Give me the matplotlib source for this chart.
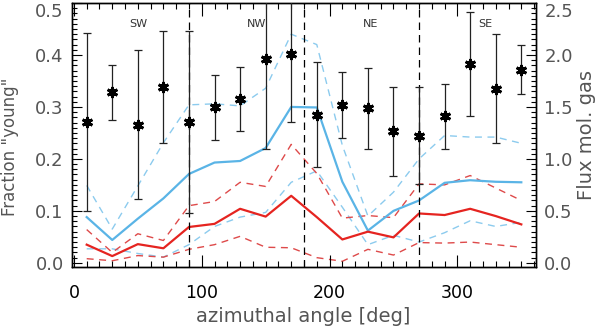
import matplotlib
matplotlib.use("Agg")
import matplotlib.pyplot as plt
import numpy as np

# azimuthal bins (deg)
angles = [10, 30, 50, 70, 90, 110, 130, 150, 170, 190, 210, 230, 250, 270, 290, 310, 330, 350]

# fraction "young" (left axis) with symmetric errors
frac_young = [0.271, 0.328, 0.266, 0.338, 0.271, 0.299, 0.315, 0.392, 0.402,
              0.285, 0.304, 0.297, 0.253, 0.245, 0.282, 0.383, 0.335, 0.372]
frac_err = [0.171, 0.053, 0.144, 0.108, 0.176, 0.062, 0.062, 0.172, 0.131,
            0.101, 0.063, 0.078, 0.085, 0.093, 0.062, 0.100, 0.105, 0.048]

# flux mol. gas (right axis) - blue series
blue_mid = [0.44, 0.22, 0.425, 0.62, 0.855, 0.965, 0.98, 1.105, 1.50,
            1.495, 0.78, 0.31, 0.50, 0.60, 0.77, 0.795, 0.78, 0.775]
blue_hi = [0.745, 0.325, 0.74, 1.155, 1.52, 1.53, 1.51, 1.68, 2.20,
           2.10, 1.13, 0.45, 0.68, 1.00, 1.225, 1.21, 1.21, 1.15]
blue_lo = [0.135, 0.135, 0.09, 0.055, 0.175, 0.35, 0.44, 0.485, 0.775,
           0.885, 0.535, 0.175, 0.265, 0.20, 0.29, 0.405, 0.35, 0.39]

# flux mol. gas (right axis) - red series
red_mid = [0.175, 0.065, 0.18, 0.14, 0.345, 0.375, 0.52, 0.445, 0.645,
           0.44, 0.225, 0.30, 0.245, 0.475, 0.46, 0.52, 0.45, 0.37]
red_hi = [0.32, 0.10, 0.28, 0.215, 0.55, 0.59, 0.775, 0.735, 1.14,
          0.86, 0.43, 0.455, 0.435, 0.76, 0.75, 0.84, 0.72, 0.60]
red_lo = [0.04, 0.02, 0.07, 0.055, 0.13, 0.175, 0.255, 0.15, 0.145,
          0.05, 0.015, 0.13, 0.075, 0.195, 0.19, 0.20, 0.175, 0.15]

sectors = ["SW", "NW", "NE", "SE"]
sector_x = [50, 143, 232, 322]
sector_bounds = [90, 180, 270]

x_ticks = [0, 100, 200, 300]

BLUE = "#5ab4e6"
BLUE_D = "#8ccbee"
RED = "#e52420"
RED_D = "#de4a4a"
GRAY = "#555555"

fig = plt.figure(figsize=(6.0, 3.28), dpi=100)
ax = fig.add_axes([72/600, (328-267)/328, 464/600, 264/328])
ax2 = ax.twinx()

ax.set_xlim(-1.5, 361.5)
ax.set_ylim(-0.008, 0.5)
ax2.set_ylim(-0.04, 2.5)

dash = (0, (5, 4))
ax2.plot(angles, blue_hi, color=BLUE_D, lw=1.0, linestyle=dash)
ax2.plot(angles, blue_lo, color=BLUE_D, lw=1.0, linestyle=dash)
ax2.plot(angles, red_hi, color=RED_D, lw=1.0, linestyle=dash)
ax2.plot(angles, red_lo, color=RED_D, lw=1.0, linestyle=dash)
ax2.plot(angles, blue_mid, color=BLUE, lw=1.6)
ax2.plot(angles, red_mid, color=RED, lw=1.6)

ax.errorbar(angles, frac_young, yerr=frac_err, fmt="none", ecolor="#222222",
            elinewidth=0.9, capsize=3, capthick=0.9, zorder=5)
ax.plot(angles, frac_young, linestyle="none", marker=(6, 2, 0), markersize=8,
        markeredgewidth=2.0, color="black", zorder=6)
ax.plot(angles, frac_young, linestyle="none", marker=(4, 2, 45), markersize=6,
        markeredgewidth=1.5, color="black", zorder=6)

for b in sector_bounds:
    ax.axvline(b, color="black", lw=0.9, linestyle=(0, (6, 4)), zorder=4)

for name, xs in zip(sectors, sector_x):
    ax.text(xs, 0.46, name, fontsize=8, color="#333333", ha="center", va="center")

ax.set_zorder(ax2.get_zorder() + 1)
ax.patch.set_visible(False)

ax.set_xticks(x_ticks)
ax.set_xticks(np.arange(0, 361, 10), minor=True)
ax.set_yticks([0.0, 0.1, 0.2, 0.3, 0.4, 0.5])
ax.set_yticks(np.arange(0, 0.501, 0.01), minor=True)
ax.set_yticklabels(["0.0", "0.1", "0.2", "0.3", "0.4", "0.5"])
ax2.set_yticks([0.0, 0.5, 1.0, 1.5, 2.0, 2.5])
ax2.set_yticks(np.arange(0, 2.501, 0.05), minor=True)
ax2.set_yticklabels(["0.0", "0.5", "1.0", "1.5", "2.0", "2.5"])

ax.tick_params(axis="x", which="both", direction="in", top=True, labelsize=12.5,
               labelcolor="black", pad=12)
ax.tick_params(axis="x", which="major", length=9, width=0.8)
ax.tick_params(axis="x", which="minor", length=4.5, width=0.8)
ax.tick_params(axis="y", which="both", direction="in", labelsize=13,
               labelcolor=GRAY, pad=6)
ax.tick_params(axis="y", which="major", length=7, width=0.8)
ax.tick_params(axis="y", which="minor", length=3.5, width=0.8)
ax2.tick_params(axis="y", which="both", direction="in", labelsize=13,
                labelcolor=GRAY, pad=6)
ax2.tick_params(axis="y", which="major", length=7, width=0.8)
ax2.tick_params(axis="y", which="minor", length=3.5, width=0.8)

# keep the top tick labels inside the figure
ax.yaxis.get_major_ticks()[-1].label1.set_verticalalignment("top")
ax2.yaxis.get_major_ticks()[-1].label2.set_verticalalignment("top")

for a in (ax, ax2):
    for s in a.spines.values():
        s.set_linewidth(1.0)

fig.text(303/600, 6/328, "azimuthal angle [deg]", fontsize=14, color=GRAY,
         ha="center", va="baseline")
fig.text(10/600, (328-147)/328, 'Fraction "young"', fontsize=12, color=GRAY,
         ha="center", va="center", rotation=90)
fig.text(587/600, (328-135)/328, "Flux mol. gas", fontsize=14, color=GRAY,
         ha="center", va="center", rotation=90)

fig.savefig("out.png", dpi=100)
